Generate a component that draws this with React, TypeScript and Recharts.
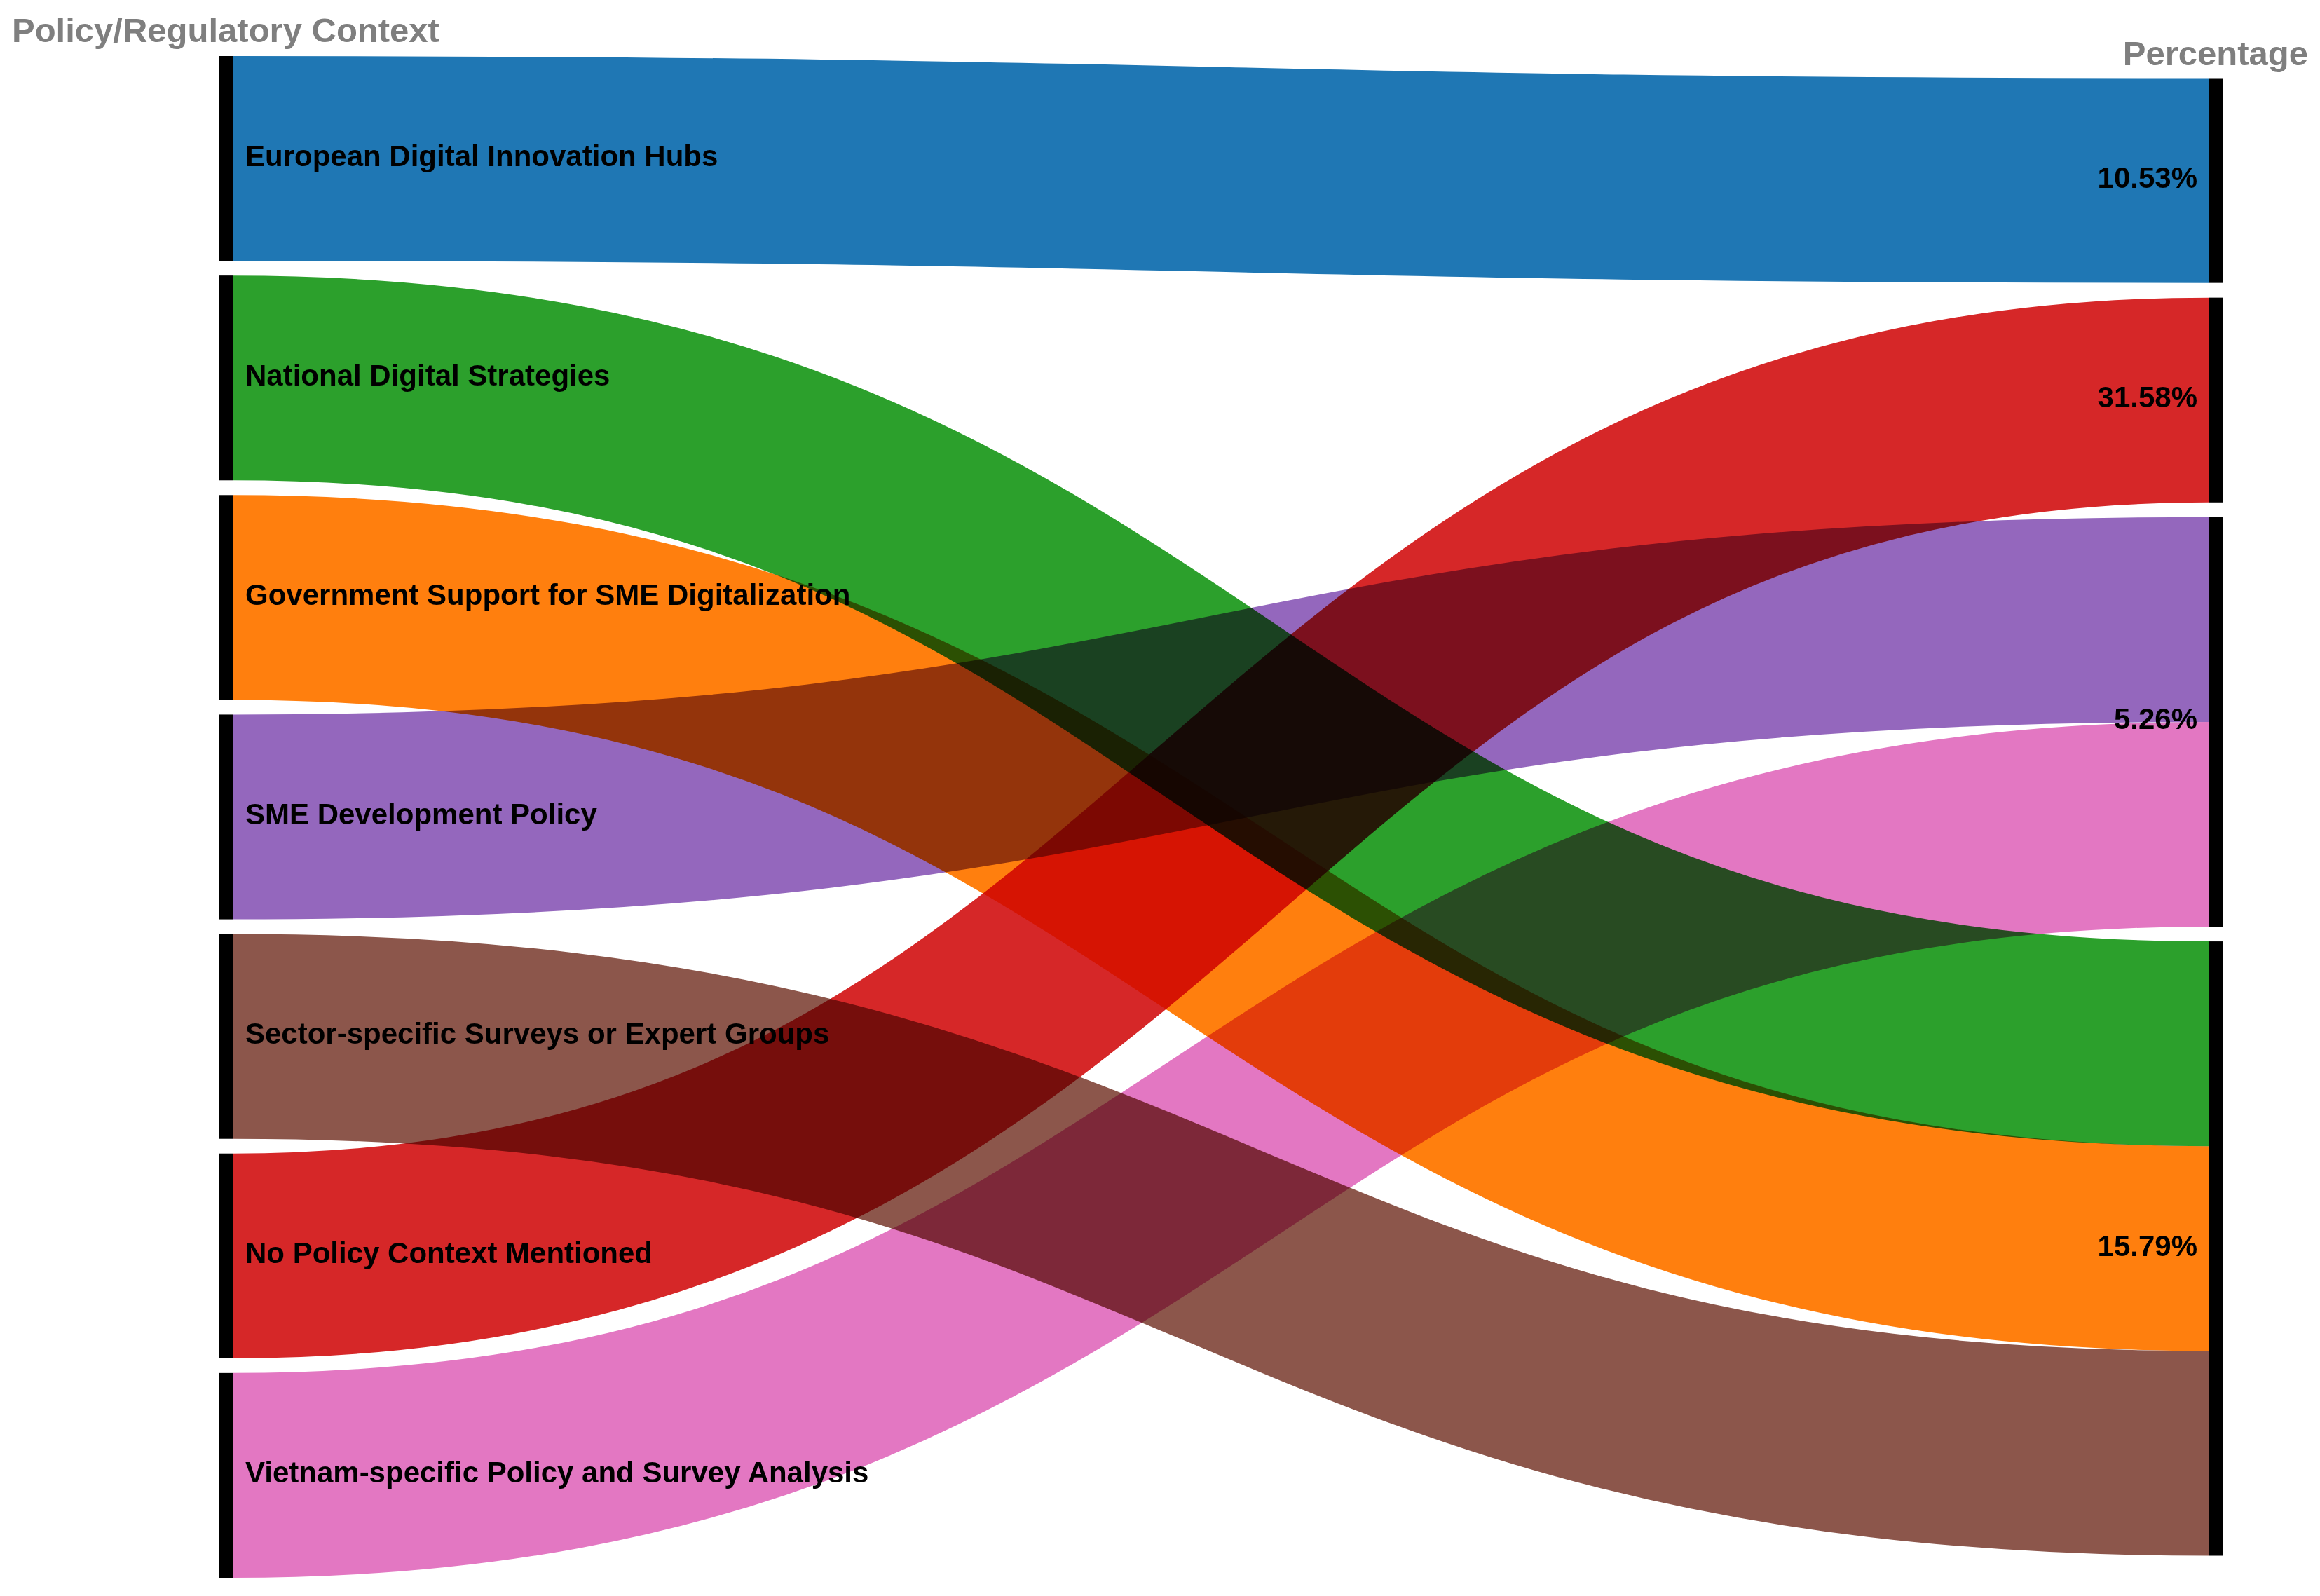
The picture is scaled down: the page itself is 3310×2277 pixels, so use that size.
import { Sankey } from "recharts";

const policies = [
  "European Digital Innovation Hubs",
  "National Digital Strategies",
  "Government Support for SME Digitalization",
  "SME Development Policy",
  "Sector-specific Surveys or Expert Groups",
  "No Policy Context Mentioned",
  "Vietnam-specific Policy and Survey Analysis",
];
const percentages = ["10.53%", "31.58%", "5.26%", "15.79%"];
// which percentage node each policy flows into
const flowTarget = [0, 3, 3, 2, 3, 1, 2];
const flowValue = [1, 1, 1, 1, 1, 1, 1];
const flowColors = ["#1f77b4", "#2ca02c", "#ff7f0e", "#9467bd", "#8c564b", "#d62728", "#e377c2"];

const W = 3310;
const H = 2277;
const NODE_W = 20;
const NODE_PAD = 21;
const FONT = "'Liberation Sans', Arial, Helvetica, sans-serif";
// right column is centred vertically, recharts packs it at the top
const RIGHT_SHIFT = ((policies.length - percentages.length) * NODE_PAD) / 2;

const data = {
  nodes: [...policies, ...percentages].map((name) => ({ name })),
  links: policies.map((_, i) => ({
    source: i,
    target: policies.length + flowTarget[i],
    value: flowValue[i],
  })),
};

function FlowLink(props: any) {
  const { sourceX, sourceY, targetX, targetY, sourceControlX, targetControlX, linkWidth, index, payload } = props;
  const ty = targetY + RIGHT_SHIFT;
  const k = policies.indexOf(payload?.source?.name);
  const color = flowColors[k >= 0 ? k : index];
  const d = `M${sourceX},${sourceY} C${sourceControlX},${sourceY} ${targetControlX},${ty} ${targetX},${ty}`;
  return (
    <path
      d={d}
      fill="none"
      stroke={color}
      strokeWidth={linkWidth}
      style={{ mixBlendMode: "multiply" }}
    />
  );
}

function FlowNode(props: any) {
  const { x, y, width, height, payload } = props;
  const right = payload.depth > 0;
  const ny = right ? y + RIGHT_SHIFT : y;
  return (
    <g>
      <rect x={x} y={ny} width={width} height={height} fill="#000" />
      <text
        x={right ? x - 17 : x + width + 18}
        y={ny + height / 2 - 4}
        textAnchor={right ? "end" : "start"}
        dominantBaseline="central"
        fontFamily={FONT}
        fontWeight="bold"
        fontSize={42}
        fill="#000"
      >
        {payload.name}
      </text>
    </g>
  );
}

export default function App() {
  return (
    <div style={{ position: "relative", width: W, height: H, background: "#fff" }}>
      <style>{"body{margin:0}"}</style>
      <Sankey
        width={W}
        height={H}
        data={data}
        nodeWidth={NODE_W}
        nodePadding={NODE_PAD}
        iterations={0}
        linkCurvature={0.5}
        margin={{ top: 80, right: 138, bottom: 26, left: 312 }}
        link={(p: any) => <FlowLink {...p} />}
        node={(p: any) => <FlowNode {...p} />}
      />
      <svg width={W} height={H} style={{ position: "absolute", left: 0, top: 0, pointerEvents: "none" }}>
        <text x={17} y={60} fontFamily={FONT} fontWeight="bold" fontSize={49} fill="#7f7f7f">
          Policy/Regulatory Context
        </text>
        <text x={3293} y={93} textAnchor="end" fontFamily={FONT} fontWeight="bold" fontSize={49} fill="#7f7f7f">
          Percentage
        </text>
      </svg>
    </div>
  );
}
